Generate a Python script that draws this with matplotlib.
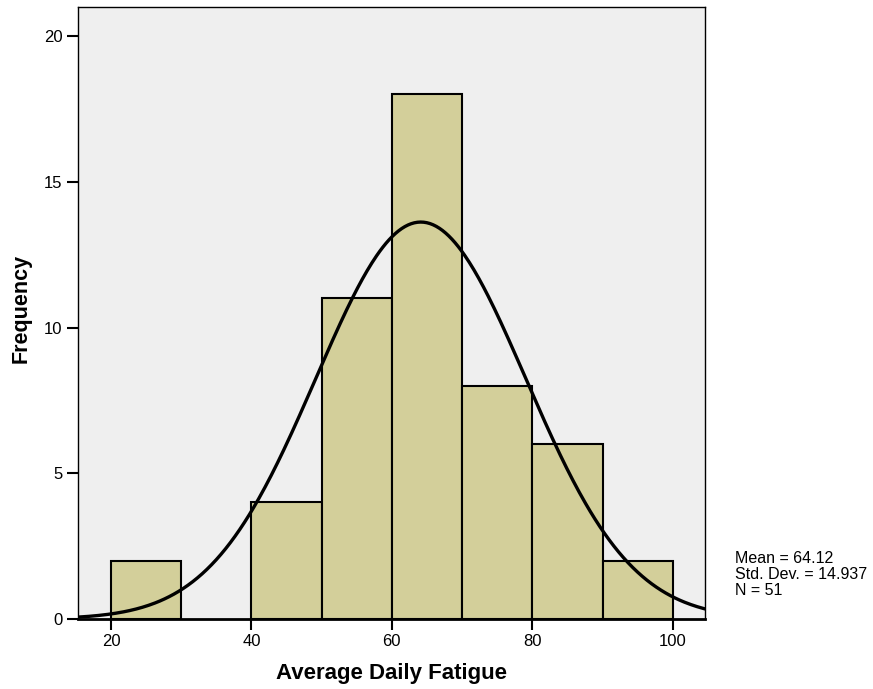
import numpy as np
import matplotlib.pyplot as plt

plt.rcParams['font.family'] = ['Liberation Sans', 'DejaVu Sans']

# histogram bins and counts
bin_edges = [20, 30, 40, 50, 60, 70, 80, 90, 100]
counts = [2, 0, 4, 11, 18, 8, 6, 2]

mean = 64.12
std = 14.937
n = 51

fig = plt.figure(figsize=(8.73, 6.89), dpi=100)
ax = fig.add_axes([0.0893, 0.1016, 0.7183, 0.8882])
ax.set_facecolor('#efefef')

lefts = bin_edges[:-1]
widths = np.diff(bin_edges)
for x0, w, c in zip(lefts, widths, counts):
    if c > 0:
        ax.bar(x0, c, width=w, align='edge', color='#d3cf9a',
               edgecolor='black', linewidth=1.5, zorder=2)

# normal curve scaled to counts
xs = np.linspace(15.3, 104.6, 400)
ys = n * 10 / (std * np.sqrt(2 * np.pi)) * np.exp(-0.5 * ((xs - mean) / std) ** 2)
ax.plot(xs, ys, color='black', linewidth=2.4, zorder=3)

ax.set_xlim(15.3, 104.6)
ax.set_ylim(0, 21.0)
ax.set_xticks([20, 40, 60, 80, 100])
ax.set_yticks([0, 5, 10, 15, 20])
ax.tick_params(direction='out', length=8, width=1.5, labelsize=12, pad=3)

for side in ['left', 'top', 'right']:
    ax.spines[side].set_linewidth(1.0)
ax.spines['bottom'].set_linewidth(2.0)

ax.set_xlabel('Average Daily Fatigue', fontsize=16, fontweight='bold', labelpad=10)
ax.set_ylabel('Frequency', fontsize=15.5, fontweight='bold')
ax.yaxis.set_label_coords(-0.074, 0.508)

fig.text(735 / 873, 1 - 551 / 689,
         f'Mean = {mean:.2f}\nStd. Dev. = {std:.3f}\nN = {n}',
         fontsize=11.5, va='top', ha='left', linespacing=1.08)

fig.savefig('out.png', dpi=100)
